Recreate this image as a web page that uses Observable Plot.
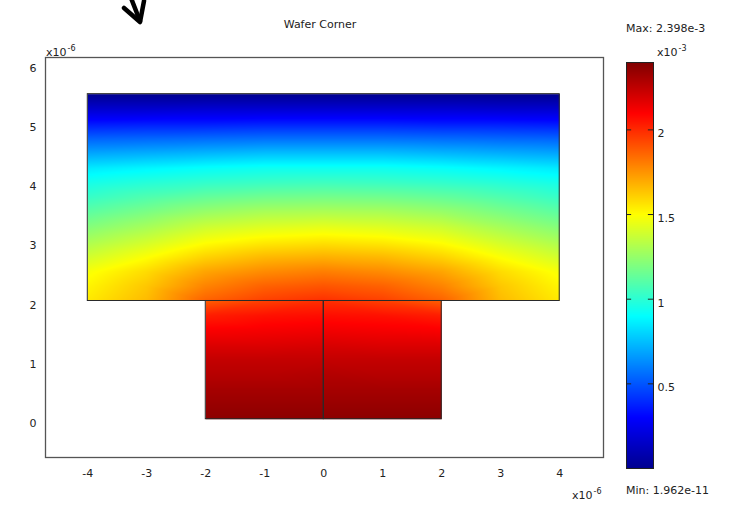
<!DOCTYPE html>
<html><head><meta charset="utf-8">
<script src="https://cdn.jsdelivr.net/npm/d3@7"></script>
<script src="https://cdn.jsdelivr.net/npm/@observablehq/plot@0.6"></script>
<style>
html,body{margin:0;padding:0;background:#fff;}
#wrap{position:relative;width:732px;height:505px;overflow:hidden;font-family:"DejaVu Sans",Verdana,sans-serif;color:#222;}
.lab{position:absolute;font-size:11px;white-space:nowrap;line-height:11px;}
.lab sup{font-size:8px;vertical-align:0;position:relative;top:-5px;margin-left:1px;}
#main,#bar,#arrow{position:absolute;top:0;}
#main{left:0;}
#bar{left:600px;}
</style></head><body>
<div id="wrap">
  <svg id="arrow" width="200" height="40" style="left:0">
    <g fill="none" stroke="#000" stroke-width="4.5" stroke-linecap="round" stroke-linejoin="round">
      <path d="M131,-2 L140,21"/>
      <path d="M124,8 L140,22 L144,1"/>
    </g>
  </svg>
  <div id="main"></div>
  <div id="bar"></div>
  <div class="lab" style="left:270px;top:19px;width:100px;text-align:center">Wafer Corner</div>
  <div class="lab" style="left:46px;top:47px">x10<sup>-6</sup></div>
  <div class="lab" style="left:572px;top:490px">x10<sup>-6</sup></div>
  <div class="lab" style="left:626px;top:23px">Max: 2.398e-3</div>
  <div class="lab" style="left:657px;top:47px">x10<sup>-3</sup></div>
  <div class="lab" style="left:626px;top:485px">Min: 1.962e-11</div>
</div>
<script>
// axis ticks (x, y in 10^-6 m; colour in 10^-3)
const xTicks = [-4, -3, -2, -1, 0, 1, 2, 3, 4];
const yTicks = [0, 1, 2, 3, 4, 5, 6];
const colorTicks = [0.5, 1, 1.5, 2];
const colorMin = 0;
const colorMax = 2.398;
// jet colour map
const jetStops = [0, 0.125, 0.375, 0.625, 0.875, 1];
const jetColors = ["#00008f", "#0000ff", "#00ffff", "#ffff00", "#ff0000", "#800000"];

// geometry blocks (10^-6 m)
const blocks = [
  {name: "wafer", x1: -4, x2: 4, y1: 2, y2: 5.5},
  {name: "left", x1: -2, x2: 0, y1: 0, y2: 2},
  {name: "right", x1: 0, x2: 2, y1: 0, y2: 2}
];

// sampled field in the upper block (values in 10^-3)
const upperXs = [-4, -3, -2, -1, 0, 1, 2, 3, 4];
const upperYs = [2, 2.25, 2.5, 2.75, 3, 3.25, 3.5, 3.75, 4, 4.25, 4.5, 4.75, 5, 5.25, 5.5];
const upperValues = [
  [1.55, 1.66, 1.87, 1.95, 1.99, 1.95, 1.87, 1.66, 1.55],
  [1.52, 1.63, 1.79, 1.87, 1.90, 1.87, 1.79, 1.63, 1.52],
  [1.48, 1.58, 1.71, 1.77, 1.80, 1.77, 1.71, 1.58, 1.48],
  [1.39, 1.49, 1.60, 1.66, 1.68, 1.66, 1.60, 1.49, 1.39],
  [1.30, 1.39, 1.49, 1.54, 1.56, 1.54, 1.49, 1.39, 1.30],
  [1.21, 1.29, 1.38, 1.42, 1.44, 1.42, 1.38, 1.29, 1.21],
  [1.12, 1.19, 1.26, 1.30, 1.31, 1.30, 1.26, 1.19, 1.12],
  [1.03, 1.09, 1.14, 1.17, 1.18, 1.17, 1.14, 1.09, 1.03],
  [0.95, 0.99, 1.02, 1.04, 1.05, 1.04, 1.02, 0.99, 0.95],
  [0.85, 0.88, 0.91, 0.93, 0.93, 0.93, 0.91, 0.88, 0.85],
  [0.69, 0.71, 0.73, 0.75, 0.75, 0.75, 0.73, 0.71, 0.69],
  [0.53, 0.54, 0.55, 0.56, 0.56, 0.56, 0.55, 0.54, 0.53],
  [0.35, 0.36, 0.36, 0.37, 0.37, 0.37, 0.36, 0.36, 0.35],
  [0.17, 0.17, 0.18, 0.18, 0.18, 0.18, 0.18, 0.17, 0.17],
  [0.00, 0.00, 0.00, 0.00, 0.00, 0.00, 0.00, 0.00, 0.00]
];

// sampled field in the two lower blocks (values in 10^-3)
const lowerXs = [-2, -1, 0, 1, 2];
const lowerYs = [0, 0.25, 0.5, 0.75, 1, 1.25, 1.5, 1.75, 2];
const lowerValues = [
  [2.37, 2.37, 2.37, 2.37, 2.37],
  [2.34, 2.34, 2.34, 2.34, 2.34],
  [2.31, 2.31, 2.31, 2.31, 2.31],
  [2.27, 2.27, 2.28, 2.27, 2.27],
  [2.24, 2.24, 2.24, 2.24, 2.24],
  [2.18, 2.18, 2.19, 2.18, 2.18],
  [2.11, 2.12, 2.13, 2.12, 2.11],
  [2.03, 2.06, 2.07, 2.06, 2.03],
  [1.88, 1.95, 1.99, 1.95, 1.88]
];

const toPoints = (xs, ys, vals) => ys.flatMap((y, i) => xs.map((x, j) => ({x, y, v: vals[i][j]})));
const upperPoints = toPoints(upperXs, upperYs, upperValues);
const lowerPoints = toPoints(lowerXs, lowerYs, lowerValues);

const colorOpts = {
  type: "linear",
  domain: jetStops.map(s => colorMin + s * (colorMax - colorMin)),
  range: jetColors,
  interpolate: "rgb"
};
const font = {fontFamily: "'DejaVu Sans', Verdana, sans-serif", fontSize: "11px", color: "#222", background: "transparent"};
const fmt = d => String(d);

const wafer = blocks[0];
const lowerExtent = {
  x1: d3.min(blocks.slice(1), d => d.x1), x2: d3.max(blocks.slice(1), d => d.x2),
  y1: d3.min(blocks.slice(1), d => d.y1), y2: d3.max(blocks.slice(1), d => d.y2)
};

const main = Plot.plot({
  width: 732, height: 505,
  marginLeft: 45, marginRight: 129, marginTop: 57, marginBottom: 48,
  x: {domain: [-4.717, 4.742]},
  y: {domain: [-0.648, 6.12]},
  color: colorOpts,
  style: font,
  marks: [
    Plot.raster(upperPoints, {x: "x", y: "y", fill: "v", x1: wafer.x1, x2: wafer.x2, y1: wafer.y1, y2: wafer.y2, interpolate: "barycentric"}),
    Plot.raster(lowerPoints, {x: "x", y: "y", fill: "v", ...lowerExtent, interpolate: "barycentric"}),
    Plot.rect(blocks, {x1: "x1", x2: "x2", y1: "y1", y2: "y2", fill: "none", stroke: "#2a2a2a", strokeWidth: 1}),
    Plot.frame({stroke: "#555", strokeWidth: 1.3}),
    Plot.axisX(xTicks, {tickSize: 0, tickPadding: 12, tickFormat: fmt, fill: "#222"}),
    Plot.axisY(yTicks, {tickSize: 0, tickPadding: 9, dy: 4, tickFormat: fmt, fill: "#222"})
  ]
});
document.getElementById("main").append(main);

const bar = Plot.plot({
  width: 132, height: 505,
  marginLeft: 26, marginRight: 79, marginTop: 62, marginBottom: 37,
  x: {domain: [0, 1], axis: null},
  y: {domain: [colorMin, colorMax]},
  color: colorOpts,
  style: font,
  marks: [
    Plot.raster({fill: (x, y) => y, x1: 0, x2: 1, y1: colorMin, y2: colorMax}),
    Plot.ruleY(colorTicks, {x1: 0, x2: 0.19, stroke: "#222"}),
    Plot.ruleY(colorTicks, {x1: 0.81, x2: 1, stroke: "#222"}),
    Plot.frame({stroke: "#222"}),
    Plot.axisY(colorTicks, {anchor: "right", tickSize: 0, tickPadding: 4, dy: 4, tickFormat: fmt, fill: "#222"})
  ]
});
document.getElementById("bar").append(bar);
</script>
</body></html>
